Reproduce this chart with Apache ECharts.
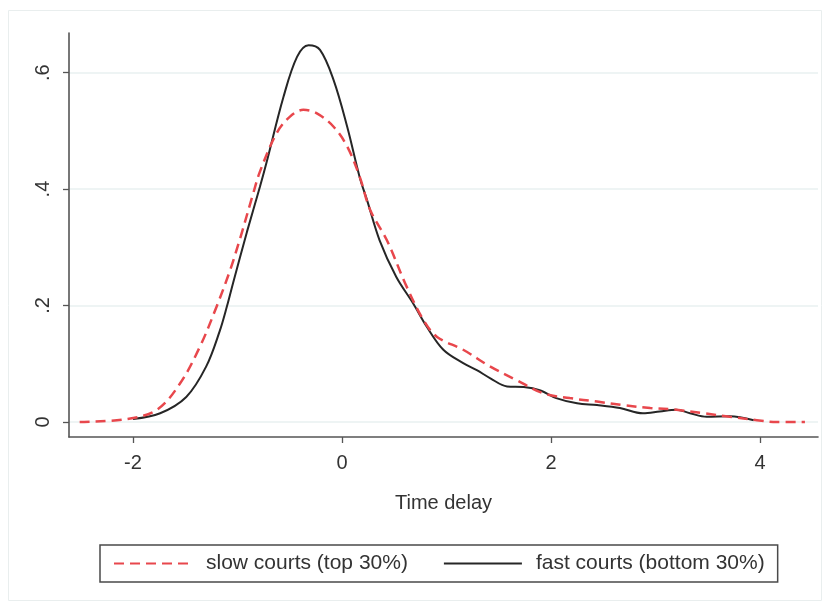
<!DOCTYPE html>
<html>
<head>
<meta charset="utf-8">
<script src="https://cdn.jsdelivr.net/npm/echarts@6/dist/echarts.min.js"></script>
<style>
html,body{margin:0;padding:0;background:#fff;}
#chart{width:823px;height:603px;}
</style>
</head>
<body>
<div id="chart"></div>
<script>
// Slow courts (top 30%) - red dashed
const slowX = [-2.51, -2.06, -1.77, -1.55, -1.36, -1.20, -1.07, -0.98, -0.85, -0.785, -0.625, -0.50, -0.37, -0.24, -0.08, 0.05, 0.17, 0.27, 0.43, 0.62, 0.78, 0.91, 1.16, 1.42, 1.67, 1.93, 2.18, 2.44, 2.69, 2.95, 3.20, 3.46, 3.71, 3.97, 4.16, 4.43];
const slowY = [0.000, 0.005, 0.021, 0.066, 0.129, 0.198, 0.261, 0.312, 0.392, 0.430, 0.496, 0.524, 0.536, 0.530, 0.507, 0.473, 0.421, 0.364, 0.312, 0.232, 0.175, 0.146, 0.124, 0.095, 0.072, 0.049, 0.041, 0.035, 0.029, 0.024, 0.021, 0.015, 0.009, 0.003, 0.000, 0.000];
// Fast courts (bottom 30%) - black solid
const fastX = [-2.0, -1.74, -1.49, -1.30, -1.17, -1.10, -1.04, -0.91, -0.785, -0.72, -0.56, -0.43, -0.32, -0.21, -0.08, 0.05, 0.17, 0.24, 0.36, 0.52, 0.68, 0.81, 0.97, 1.16, 1.29, 1.42, 1.58, 1.74, 1.90, 2.05, 2.25, 2.44, 2.66, 2.88, 3.04, 3.20, 3.33, 3.49, 3.71, 3.94];
const fastY = [0.005, 0.015, 0.043, 0.095, 0.156, 0.199, 0.240, 0.326, 0.404, 0.447, 0.558, 0.627, 0.647, 0.639, 0.587, 0.507, 0.420, 0.381, 0.312, 0.249, 0.204, 0.164, 0.124, 0.101, 0.089, 0.075, 0.061, 0.060, 0.054, 0.041, 0.032, 0.029, 0.024, 0.015, 0.018, 0.021, 0.015, 0.009, 0.010, 0.003];

const xTicks = [-2, 0, 2, 4];
const yTicks = [0, 0.2, 0.4, 0.6];
const seriesNames = ['slow courts (top 30%)', 'fast courts (bottom 30%)'];
const xName = 'Time delay';

const pairs = (xs, ys) => xs.map((x, i) => [x, ys[i]]);
const FONT = '"Liberation Sans", Arial, sans-serif';

const chart = echarts.init(document.getElementById('chart'), null, {renderer: 'canvas'});
chart.setOption({
  animation: false,
  backgroundColor: '#ffffff',
  textStyle: {fontFamily: FONT},
  graphic: [{
    type: 'rect', silent: true, z: -10,
    shape: {x: 8.5, y: 10.5, width: 813, height: 590},
    style: {fill: 'none', stroke: '#e9eeee', lineWidth: 1}
  }],
  grid: {left: 69, right: 5, top: 33, bottom: 166, containLabel: false},
  xAxis: {
    type: 'value', min: -2.612, max: 4.555,
    name: xName, nameLocation: 'middle', nameGap: 56,
    nameTextStyle: {fontSize: 20, color: '#333', fontFamily: FONT},
    axisLine: {show: true, onZero: false, lineStyle: {color: '#555', width: 1.6}},
    axisTick: {show: true, length: 6, customValues: xTicks, lineStyle: {color: '#555', width: 1.3}},
    axisLabel: {customValues: xTicks, fontSize: 20, color: '#333', margin: 16, fontFamily: FONT,
      formatter: v => String(v)},
    splitLine: {show: false}
  },
  yAxis: {
    type: 'value', min: -0.0258, max: 0.668,
    axisLine: {show: true, onZero: false, lineStyle: {color: '#555', width: 1.6}},
    axisTick: {show: true, length: 6, customValues: yTicks, lineStyle: {color: '#555', width: 1.3}},
    axisLabel: {customValues: yTicks, fontSize: 20, color: '#333', margin: 16, rotate: 90, fontFamily: FONT,
      formatter: v => v === 0 ? '0' : v.toFixed(1).replace(/^0/, '')},
    splitLine: {show: true, lineStyle: {color: '#e8f0f1', width: 1.5}}
  },
  legend: {
    left: 100, top: 545,
    orient: 'horizontal',
    data: seriesNames,
    itemWidth: 78, itemHeight: 14, itemGap: 35,
    padding: [8, 13, 8, 13],
    borderColor: '#4a4a4a', borderWidth: 1.5, borderRadius: 0,
    itemStyle: {color: 'rgba(0,0,0,0)', borderWidth: 0, opacity: 0},
    textStyle: {fontSize: 21, color: '#333', fontFamily: FONT, padding: [0, 0, 0, 9]}
  },
  series: [
    {
      name: seriesNames[0], type: 'line', data: pairs(slowX, slowY),
      showSymbol: false, symbol: 'none', smooth: 0.35,
      lineStyle: {color: '#e8474c', width: 2.5, type: [10, 6]},
      itemStyle: {color: '#e8474c'}, z: 3
    },
    {
      name: seriesNames[1], type: 'line', data: pairs(fastX, fastY),
      showSymbol: false, symbol: 'none', smooth: 0.35,
      lineStyle: {color: '#262626', width: 2},
      itemStyle: {color: '#262626'}, z: 2
    }
  ]
});
</script>
</body>
</html>
